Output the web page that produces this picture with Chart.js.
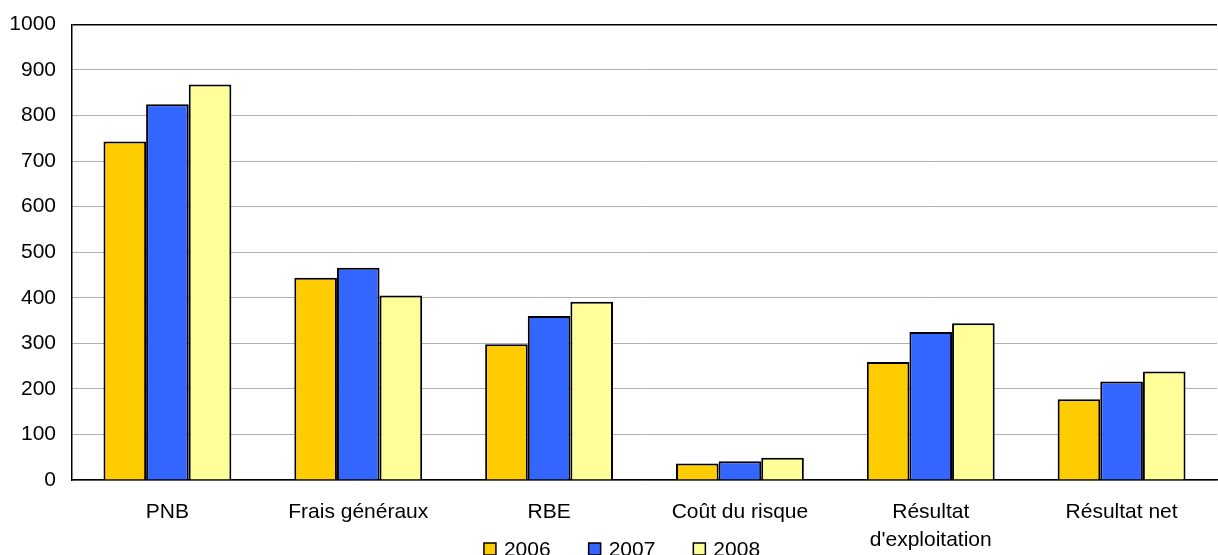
<!DOCTYPE html>
<html>
<head>
<meta charset="utf-8">
<script src="https://cdn.jsdelivr.net/npm/chart.js@4.4.0/dist/chart.umd.min.js"></script>
<style>
  html, body { margin: 0; padding: 0; background: #fff; }
  #wrap { width: 1218px; height: 555px; position: relative; }
</style>
</head>
<body>
<div id="wrap"><canvas id="graph"></canvas></div>
<script>
// Données
const categories = ['PNB', 'Frais généraux', 'RBE', 'Coût du risque', ['Résultat', "d'exploitation"], 'Résultat net'];
const years = ['2006', '2007', '2008'];
const values2006 = [743, 444, 298, 36, 259, 177];
const values2007 = [825, 466, 360, 41, 325, 216];
const values2008 = [868, 405, 391, 49, 344, 238];
const colors = ['#FFCC00', '#3366FF', '#FFFF99'];

const FONT = "'Liberation Sans', Arial, sans-serif";

// Légende dessinée sous l'axe (l'axe x à deux lignes la chevauche)
const bottomLegend = {
  id: 'bottomLegend',
  afterDraw(chart) {
    const ctx = chart.ctx;
    const box = 12, gap = 8, spacing = 38;
    ctx.save();
    ctx.font = '21px ' + FONT;
    ctx.textBaseline = 'middle';
    const items = chart.data.datasets.map(ds => ({
      label: ds.label, color: ds.backgroundColor, w: box + gap + ctx.measureText(ds.label).width
    }));
    const total = items.reduce((s, it) => s + it.w, 0) + spacing * (items.length - 1);
    let x = chart.width / 2 + 13 - total / 2;
    const y = 549;
    items.forEach(it => {
      ctx.fillStyle = it.color;
      ctx.fillRect(x, y - box / 2, box, box);
      ctx.strokeStyle = '#000';
      ctx.lineWidth = 1.5;
      ctx.strokeRect(x, y - box / 2, box, box);
      ctx.fillStyle = '#000';
      ctx.fillText(it.label, x + box + gap, y + 1);
      x += it.w + spacing;
    });
    ctx.restore();
  }
};

const config = {
  type: 'bar',
  data: {
    labels: categories,
    datasets: [
      { label: years[0], data: values2006, backgroundColor: colors[0] },
      { label: years[1], data: values2007, backgroundColor: colors[1] },
      { label: years[2], data: values2008, backgroundColor: colors[2] }
    ].map(ds => Object.assign(ds, {
      borderColor: '#000',
      borderWidth: 2,
      categoryPercentage: 0.67,
      barPercentage: 1
    }))
  },
  options: {
    responsive: true,
    maintainAspectRatio: false,
    animation: false,
    layout: { padding: { top: 0, right: 1, left: 0, bottom: 0 } },
    plugins: {
      legend: { display: false },
      tooltip: { enabled: false }
    },
    scales: {
      x: {
        grid: { display: false, drawTicks: false },
        border: { color: '#000', width: 1.5 },
        ticks: {
          color: '#000',
          padding: 19,
          maxRotation: 0,
          autoSkip: false,
          font: { family: FONT, size: 21, lineHeight: 1.3 }
        },
        afterFit(scale) { scale.height = 75; }
      },
      y: {
        min: 0,
        max: 1000,
        grid: {
          drawTicks: false,
          color: ctx => ctx.tick && ctx.tick.value === 1000 ? '#000' : '#b0b0b0',
          lineWidth: ctx => ctx.tick && ctx.tick.value === 1000 ? 1.5 : 1
        },
        border: { color: '#000', width: 1.5 },
        ticks: {
          stepSize: 100,
          color: '#000',
          padding: 16,
          font: { family: FONT, size: 21, lineHeight: 0.8 },
          callback: v => String(v)
        },
        afterFit(scale) { scale.width = 72; }
      }
    }
  },
  plugins: [bottomLegend]
};

window.addEventListener('DOMContentLoaded', () => {
  const ctx = document.getElementById('graph').getContext('2d');
  new Chart(ctx, config);
});
</script>
</body>
</html>
